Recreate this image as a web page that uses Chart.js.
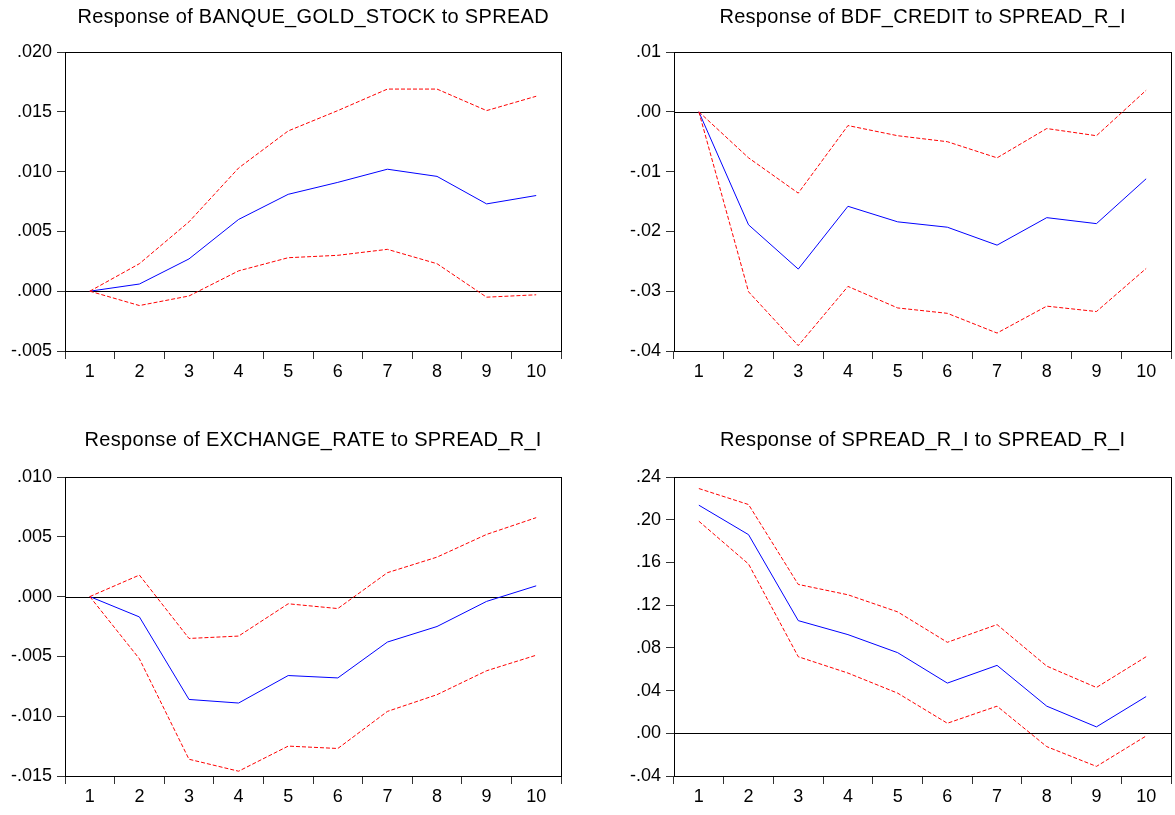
<!DOCTYPE html>
<html>
<head>
<meta charset="utf-8">
<script src="https://cdn.jsdelivr.net/npm/chart.js@4.4.1/dist/chart.umd.min.js"></script>
<style>
  html, body { margin: 0; padding: 0; background: #ffffff; }
  body { width: 1175px; height: 815px; position: relative; overflow: hidden; }
  canvas { position: absolute; }
</style>
</head>
<body>
<canvas id="pGold" width="580" height="400" style="left:0px;top:0px;"></canvas>
<canvas id="pCredit" width="566" height="400" style="left:609px;top:0px;"></canvas>
<canvas id="pFx" width="580" height="400" style="left:0px;top:425px;"></canvas>
<canvas id="pSpread" width="566" height="400" style="left:609px;top:425px;"></canvas>
<script>
// Impulse response horizon
const periods = ['1', '2', '3', '4', '5', '6', '7', '8', '9', '10'];

// Response of BANQUE_GOLD_STOCK to SPREAD
const goldResp  = [0, 0.0006, 0.0027, 0.0060, 0.0081, 0.0091, 0.0102, 0.0096, 0.0073, 0.0080];
const goldUpper = [0, 0.0023, 0.0058, 0.0103, 0.0134, 0.0151, 0.0169, 0.0169, 0.0151, 0.0163];
const goldLower = [0, -0.0012, -0.0004, 0.0017, 0.0028, 0.0030, 0.0035, 0.0023, -0.0005, -0.0003];
const goldTicks = [-0.005, 0, 0.005, 0.010, 0.015, 0.020];

// Response of BDF_CREDIT to SPREAD_R_I
const creditResp  = [0, -0.0189, -0.0263, -0.0158, -0.0184, -0.0193, -0.0223, -0.0177, -0.0187, -0.0112];
const creditUpper = [0, -0.0077, -0.0136, -0.0023, -0.0040, -0.0050, -0.0077, -0.0028, -0.0040, 0.0036];
const creditLower = [0, -0.0301, -0.0391, -0.0292, -0.0328, -0.0337, -0.0370, -0.0325, -0.0334, -0.0262];
const creditTicks = [-0.04, -0.03, -0.02, -0.01, 0, 0.01];

// Response of EXCHANGE_RATE to SPREAD_R_I
const fxResp  = [0, -0.0017, -0.0086, -0.0089, -0.0066, -0.0068, -0.0038, -0.0025, -0.0004, 0.0009];
const fxUpper = [0, 0.0018, -0.0035, -0.0033, -0.0006, -0.0010, 0.0020, 0.0033, 0.0052, 0.0066];
const fxLower = [0, -0.0052, -0.0136, -0.0146, -0.0125, -0.0127, -0.0096, -0.0082, -0.0062, -0.0049];
const fxTicks = [-0.015, -0.010, -0.005, 0, 0.005, 0.010];

// Response of SPREAD_R_I to SPREAD_R_I
const spreadResp  = [0.2136, 0.1860, 0.1055, 0.0924, 0.0755, 0.0470, 0.0636, 0.0254, 0.0060, 0.0344];
const spreadUpper = [0.2292, 0.2142, 0.1394, 0.1297, 0.1137, 0.0852, 0.1018, 0.0629, 0.0429, 0.0717];
const spreadLower = [0.1986, 0.1585, 0.0717, 0.0564, 0.0376, 0.0094, 0.0254, -0.0125, -0.0310, -0.0025];
const spreadTicks = [-0.04, 0, 0.04, 0.08, 0.12, 0.16, 0.20, 0.24];

const FONT = "'Liberation Sans', Arial, sans-serif";

// EViews-style numbers: no leading zero (".005", "-.010")
function fmt(v, d) {
  const s = Math.abs(v).toFixed(d).replace(/^0/, '');
  return (v < -1e-12 ? '-' : '') + s;
}

// Zero reference line, plot frame and panel title
const panelDecor = {
  id: 'panelDecor',
  beforeDatasetsDraw(chart) {
    const { ctx, chartArea: a, scales: { y } } = chart;
    const y0 = Math.round(y.getPixelForValue(0)) + 0.5;
    ctx.save();
    ctx.strokeStyle = '#000';
    ctx.lineWidth = 1;
    ctx.beginPath();
    ctx.moveTo(a.left, y0);
    ctx.lineTo(a.right, y0);
    ctx.stroke();
    ctx.restore();
  },
  afterDatasetsDraw(chart) {
    const { ctx, chartArea: a } = chart;
    ctx.save();
    ctx.strokeStyle = '#000';
    ctx.lineWidth = 1;
    ctx.strokeRect(Math.round(a.left) + 0.5, Math.round(a.top) + 0.5,
                   Math.round(a.right - a.left), Math.round(a.bottom - a.top));
    ctx.restore();
  },
  afterDraw(chart, args, opts) {
    const { ctx, chartArea: a } = chart;
    ctx.save();
    ctx.font = opts.size + 'px ' + FONT;
    ctx.letterSpacing = opts.spacing + 'px';
    ctx.fillStyle = '#000';
    ctx.textAlign = 'center';
    ctx.textBaseline = 'middle';
    ctx.fillText(opts.text, (a.left + a.right) / 2 + opts.spacing / 2, opts.y);
    ctx.restore();
  }
};

function makePanel(id, title, titleY, resp, upper, lower, ticks, decimals, rightPad) {
  const lo = ticks[0], hi = ticks[ticks.length - 1];
  return new Chart(document.getElementById(id), {
    type: 'line',
    data: {
      labels: periods,
      datasets: [
        { data: upper, borderColor: '#ff0000', borderWidth: 1, borderDash: [4, 2] },
        { data: lower, borderColor: '#ff0000', borderWidth: 1, borderDash: [4, 2] },
        { data: resp,  borderColor: '#0000ff', borderWidth: 1 }
      ]
    },
    options: {
      responsive: false,
      animation: false,
      devicePixelRatio: 1,
      layout: { padding: { top: 52, right: rightPad, bottom: 0, left: 0 } },
      elements: { point: { radius: 0 }, line: { tension: 0 } },
      plugins: {
        legend: { display: false },
        tooltip: { enabled: false },
        title: { display: false },
        panelDecor: { text: title, size: 20, spacing: 0.3, y: titleY }
      },
      scales: {
        x: {
          type: 'category',
          offset: true,
          border: { display: false },
          grid: { offset: true, drawOnChartArea: false, drawTicks: true, tickLength: 8, color: '#333' },
          ticks: { color: '#000', font: { family: FONT, size: 18 }, padding: 2, maxRotation: 0, autoSkip: false },
          afterFit(s) { s.height = 49; }
        },
        y: {
          min: lo,
          max: hi,
          border: { display: false },
          grid: { drawOnChartArea: false, drawTicks: true, tickLength: 8, color: '#333' },
          ticks: {
            color: '#000',
            font: { family: FONT, size: 18 },
            padding: 5,
            callback: (v) => fmt(v, decimals)
          },
          afterBuildTicks(s) { s.ticks = ticks.map(v => ({ value: v })); },
          afterFit(s) { s.width = 65; }
        }
      }
    },
    plugins: [panelDecor]
  });
}

makePanel('pGold', 'Response of BANQUE_GOLD_STOCK to SPREAD', 17, goldResp, goldUpper, goldLower, goldTicks, 3, 19);
makePanel('pCredit', 'Response of BDF_CREDIT to SPREAD_R_I', 17, creditResp, creditUpper, creditLower, creditTicks, 2, 4);
makePanel('pFx', 'Response of EXCHANGE_RATE to SPREAD_R_I', 15, fxResp, fxUpper, fxLower, fxTicks, 3, 19);
makePanel('pSpread', 'Response of SPREAD_R_I to SPREAD_R_I', 15, spreadResp, spreadUpper, spreadLower, spreadTicks, 2, 4);
</script>
</body>
</html>
